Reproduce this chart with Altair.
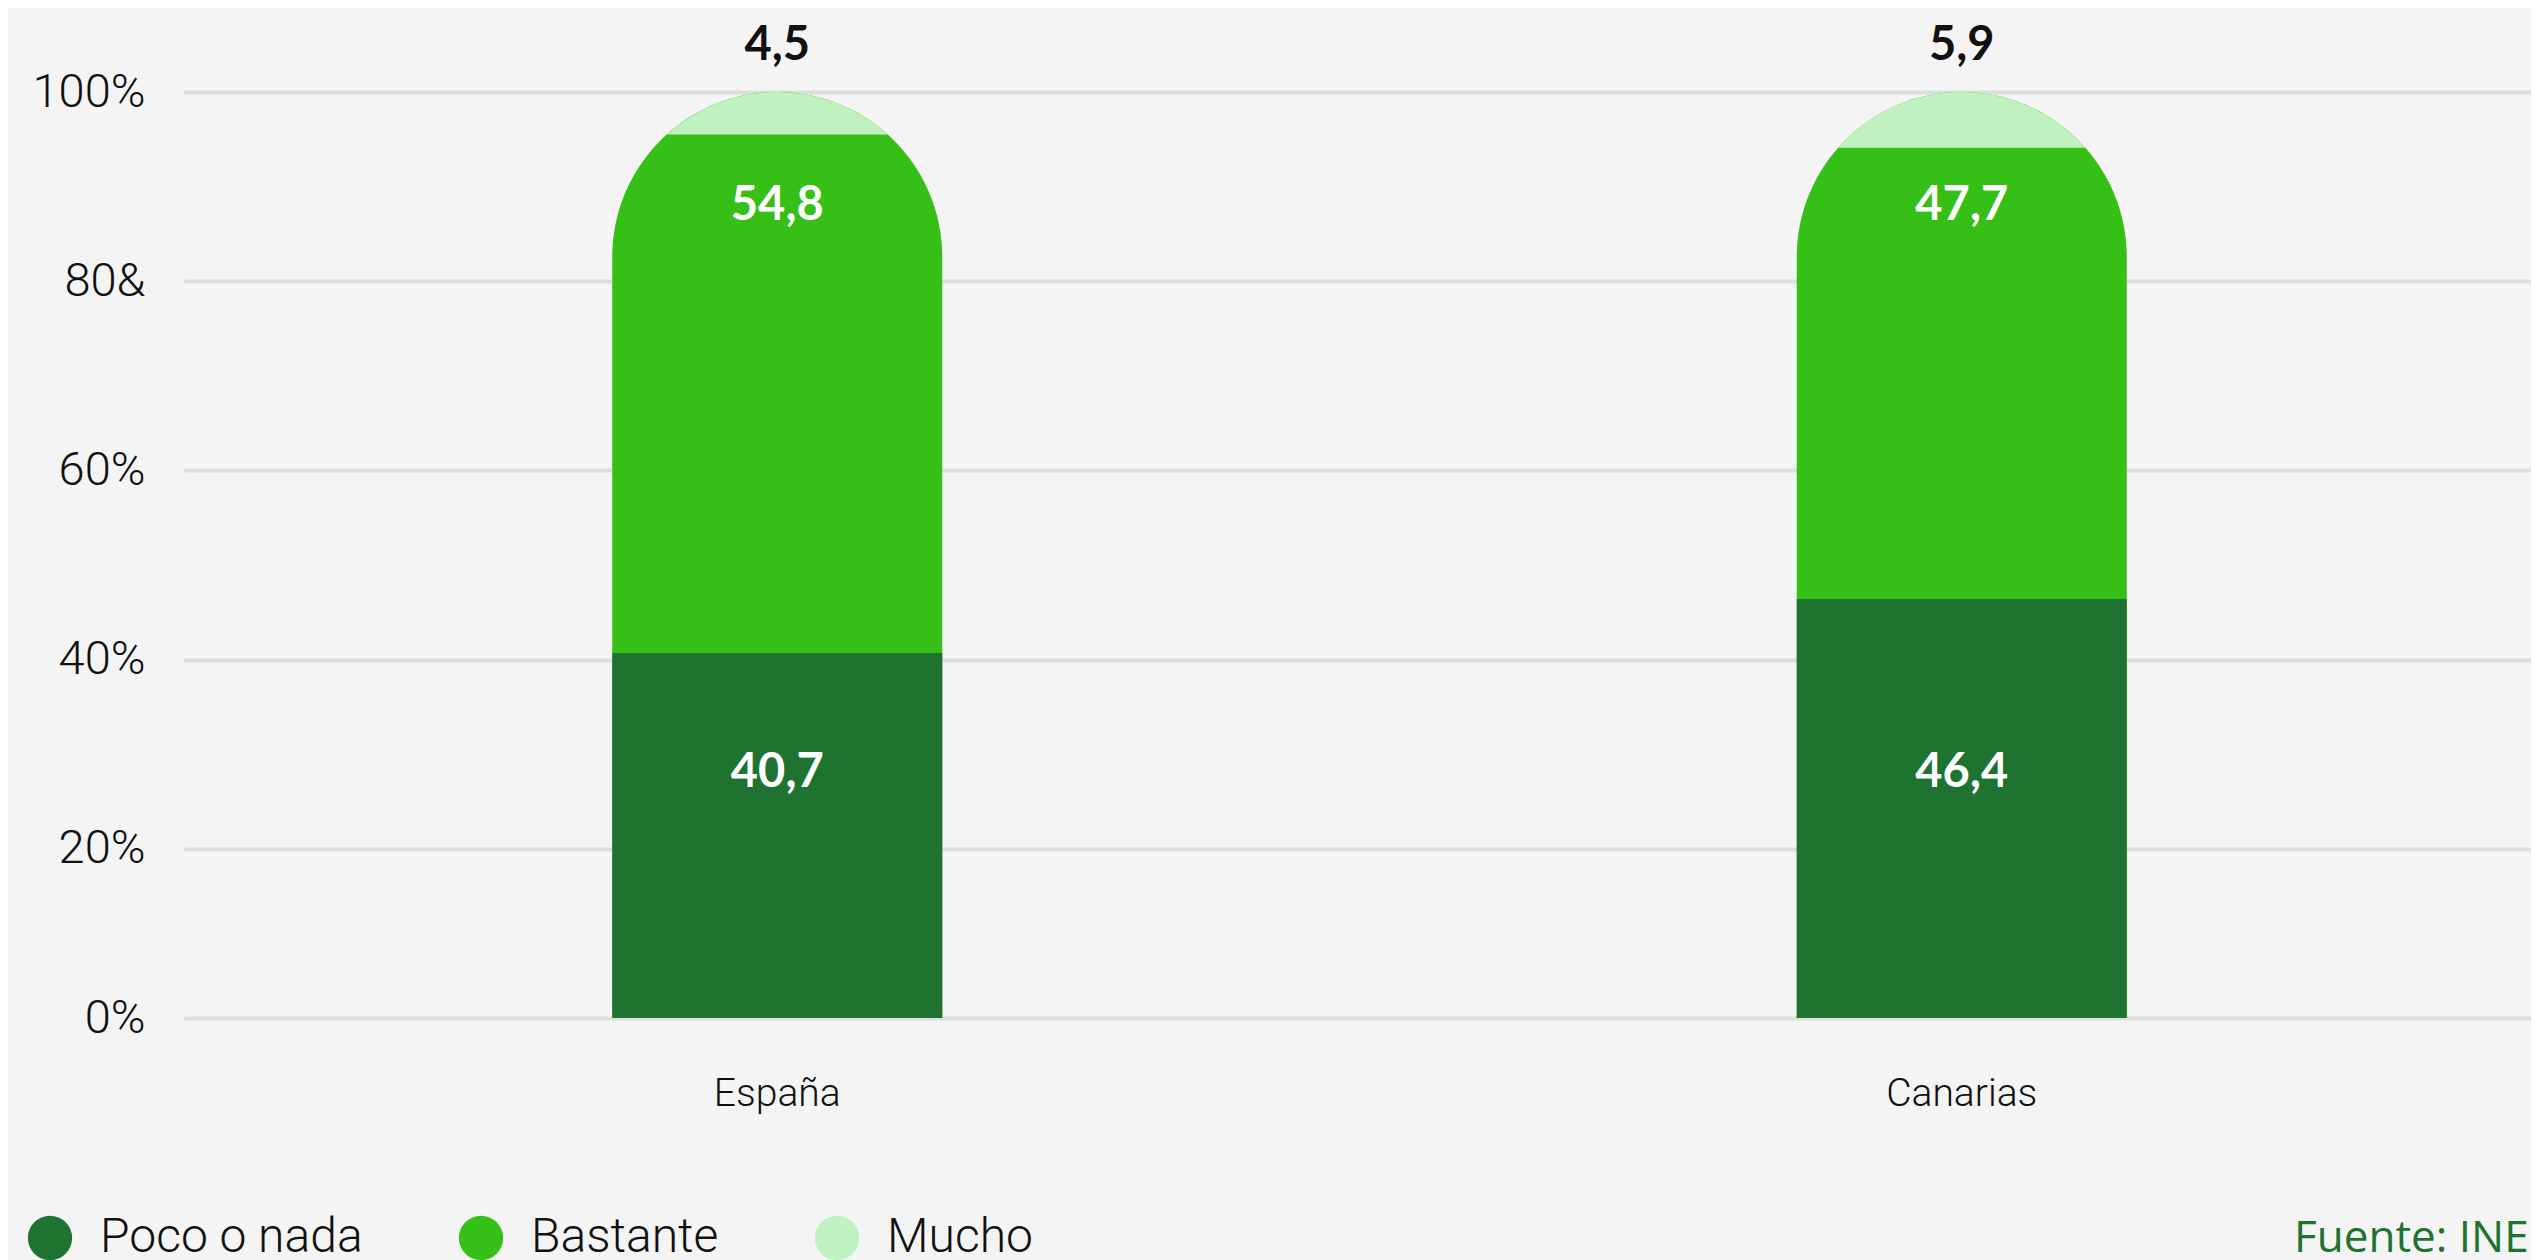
import json
import numpy as np
import pandas as pd
import altair as alt

# ---- data ----
regions = ["España", "Canarias"]
poco = [40.7, 46.4]
bastante = [54.8, 47.7]
mucho = [4.5, 5.9]
series = ["Poco o nada", "Bastante", "Mucho"]
colors = ["#1e7330", "#36bf16", "#bff1c1"]
y_tick_labels = ["0%", "20%", "40%", "60%", "80&", "100%"]
source_text = "Fuente: INE"

# ---- layout / style ----
Y_MIN = 2.1                      # the reference's bottom line sits slightly above 0
y_ticks = [Y_MIN, 20, 40, 60, 80, 100]
PLOT_W, PLOT_H = 2338, 926
BAR_W = 330
R = BAR_W / 2
PPX = PLOT_H / (100.0 - Y_MIN)
BG = "#f4f4f4"
TXT = "#111111"


def lbl(v):
    return f"{v:.1f}".replace(".", ",")


rows = []
for reg, p, b, m in zip(regions, poco, bastante, mucho):
    d = m * PPX
    phi = float(np.arccos((R - d) / R))
    rows.append({
        "region": reg,
        "zero": 0.0,
        "top": p + b + m,
        "poco": p,
        "pb": p + b,
        "cval": (p + b + m) - R / PPX,
        "t0": -phi,
        "t1": phi,
        "cw": 2 * R * np.sin(phi),
        "series": series[0],
        "poco_lbl": lbl(p),
        "bast_lbl": lbl(b),
        "mucho_lbl": lbl(m),
    })
df = pd.DataFrame(rows)

yscale = alt.Scale(domain=[Y_MIN, 100], nice=False, zero=False)
xscale = alt.Scale(domain=regions, range=[-8, 2361], paddingInner=0, paddingOuter=0)

yaxis = alt.Axis(
    values=y_ticks,
    labelExpr=f"{json.dumps(y_tick_labels)}[round(datum.value / 20)]",
    domain=False, ticks=False, tickSize=0, labelPadding=48,
    labelFont="Roboto", labelFontWeight=300, labelFontSize=47, labelColor=TXT,
    labelBaseline="alphabetic", labelOffset=14,
    gridColor="#dddddd", gridWidth=4, gridCap="round", title=None,
)
xaxis = alt.Axis(
    title=None, domain=False, ticks=False, labelAngle=0, labelPadding=87,
    labelBaseline="alphabetic", labelFont="Roboto", labelFontWeight=300,
    labelFontSize=39, labelColor=TXT, grid=False,
)

X = alt.X("region:N", scale=xscale, axis=xaxis, sort=regions)

base = alt.Chart(df)

# rounded full bar (Bastante colour)
dome = base.mark_bar(
    width=BAR_W, cornerRadiusTopLeft=R, cornerRadiusTopRight=R,
    color=colors[1], clip=True
).encode(
    x=X,
    y=alt.Y("top:Q", scale=yscale, axis=yaxis),
    y2=alt.Y2("zero:Q"),
)

# Mucho cap: circular sector over the dome
cap = base.mark_arc(color=colors[2]).encode(
    x=X,
    y=alt.Y("cval:Q", scale=yscale, axis=yaxis),
    theta=alt.Theta("t0:Q", scale=None),
    theta2=alt.Theta2("t1:Q"),
    radius=alt.value(R),
)

# cover the sector's triangle with Bastante colour
cover = base.mark_bar(color=colors[1]).encode(
    x=X,
    y=alt.Y("pb:Q", scale=yscale, axis=yaxis),
    y2=alt.Y2("cval:Q"),
    size=alt.Size("cw:Q", scale=None),
)

# Poco o nada bar (carries the legend)
poco_bar = base.mark_bar(width=BAR_W, clip=True).encode(
    x=X,
    y=alt.Y("poco:Q", scale=yscale, axis=yaxis),
    y2=alt.Y2("zero:Q"),
    color=alt.Color(
        "series:N",
        scale=alt.Scale(domain=series, range=colors),
        legend=alt.Legend(
            title=None, orient="none", legendX=-167, legendY=1122,
            direction="horizontal", symbolType="circle", symbolSize=1963,
            symbolStrokeWidth=0, symbolOpacity=1,
            labelFont="Roboto", labelFontWeight=300, labelFontSize=48,
            labelColor=TXT, labelOffset=26, columnPadding=94, padding=0,
            labelLimit=0,
        ),
    ),
)

txt_common = dict(font="Lato", fontWeight=700, fontSize=47, baseline="middle", align="center")

poco_txt = base.mark_text(color="white", **txt_common).encode(
    x=X, y=alt.value(681), text="poco_lbl:N"
)
bast_txt = base.mark_text(color="white", **txt_common).encode(
    x=X, y=alt.value(114), text="bast_lbl:N"
)
mucho_txt = base.mark_text(color=TXT, **txt_common).encode(
    x=X, y=alt.value(-46), text="mucho_lbl:N"
)

source = alt.Chart(pd.DataFrame({"t": [source_text]})).mark_text(
    font="Open Sans", fontSize=44, color=colors[0], align="left", baseline="alphabetic"
).encode(x=alt.value(2101), y=alt.value(1160), text="t:N")

chart = alt.layer(
    dome, cap, cover, poco_bar, poco_txt, bast_txt, mucho_txt, source
).properties(
    width=PLOT_W,
    height=PLOT_H,
    autosize=alt.AutoSizeParams(type="none"),
    padding={"left": 185, "top": 84, "right": 0, "bottom": 260},
    background=BG,
).configure_view(stroke=None)

chart.save("out.html", embed_options={"renderer": "svg", "actions": False})
